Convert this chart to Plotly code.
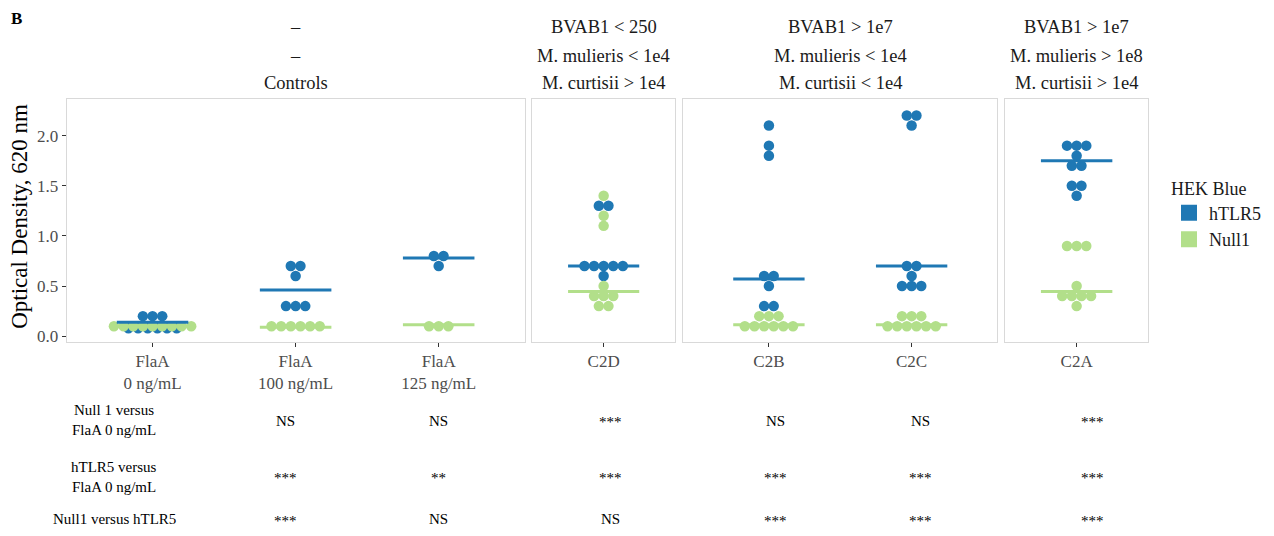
import plotly.graph_objects as go

# ---------------- data ----------------
panel_categories = [
    ["FlaA 0 ng/mL", "FlaA 100 ng/mL", "FlaA 125 ng/mL"],
    ["C2D"],
    ["C2B", "C2C"],
    ["C2A"],
]
panel_ticktext = [
    ["FlaA<br>0 ng/mL", "FlaA<br>100 ng/mL", "FlaA<br>125 ng/mL"],
    ["C2D"],
    ["C2B", "C2C"],
    ["C2A"],
]
strip_bvab1 = ["–", "BVAB1 < 250", "BVAB1 > 1e7", "BVAB1 > 1e7"]
strip_mulieris = ["–", "M. mulieris < 1e4", "M. mulieris < 1e4", "M. mulieris > 1e8"]
strip_curtisii = ["Controls", "M. curtisii > 1e4", "M. curtisii < 1e4", "M. curtisii > 1e4"]

htlr5_values = {
    "FlaA 0 ng/mL": [0.2, 0.2, 0.2, 0.08, 0.08, 0.08, 0.08, 0.08, 0.08],
    "FlaA 100 ng/mL": [0.7, 0.7, 0.6, 0.3, 0.3, 0.3],
    "FlaA 125 ng/mL": [0.8, 0.8, 0.7],
    "C2D": [1.3, 1.3, 0.7, 0.7, 0.7, 0.7, 0.7, 0.6],
    "C2B": [2.1, 1.9, 1.8, 0.6, 0.6, 0.5, 0.3, 0.3],
    "C2C": [2.2, 2.2, 2.1, 0.7, 0.7, 0.6, 0.5, 0.5, 0.5],
    "C2A": [1.9, 1.9, 1.9, 1.8, 1.7, 1.7, 1.5, 1.5, 1.4],
}
null1_values = {
    "FlaA 0 ng/mL": [0.1] * 9,
    "FlaA 100 ng/mL": [0.1] * 6,
    "FlaA 125 ng/mL": [0.1] * 3,
    "C2D": [1.4, 1.2, 1.1, 0.5, 0.4, 0.4, 0.4, 0.3, 0.3],
    "C2B": [0.2, 0.2, 0.2, 0.1, 0.1, 0.1, 0.1, 0.1, 0.1],
    "C2C": [0.2, 0.2, 0.2, 0.1, 0.1, 0.1, 0.1, 0.1, 0.1],
    "C2A": [0.9, 0.9, 0.9, 0.5, 0.4, 0.4, 0.4, 0.4, 0.3],
}
htlr5_median = {"FlaA 0 ng/mL": 0.14, "FlaA 100 ng/mL": 0.46, "FlaA 125 ng/mL": 0.78,
                "C2D": 0.70, "C2B": 0.57, "C2C": 0.70, "C2A": 1.75}
null1_median = {"FlaA 0 ng/mL": 0.10, "FlaA 100 ng/mL": 0.09, "FlaA 125 ng/mL": 0.115,
                "C2D": 0.445, "C2B": 0.115, "C2C": 0.115, "C2A": 0.445}

y_tickvals = [0.0, 0.5, 1.0, 1.5, 2.0]
y_ticktext = ["0.0", "0.5", "1.0", "1.5", "2.0"]

table_row_labels = [["Null 1 versus", "FlaA 0 ng/mL"], ["hTLR5 versus", "FlaA 0 ng/mL"], ["Null1 versus hTLR5"]]
table_values = [
    ["NS", "NS", "***", "NS", "NS", "***"],
    ["***", "**", "***", "***", "***", "***"],
    ["***", "NS", "NS", "***", "***", "***"],
]

# ---------------- styling / layout ----------------
OFF_X, OFF_Y = 8, 5.5        # page body offset
SCALE_X = 0.996
W, H = 1258, 520
BLUE = "#1f78b4"
GREEN = "#b2df8a"
FONT = "Liberation Serif, Times New Roman, serif"


def px_x(p):
    return (p - OFF_X) / (W * SCALE_X)


def px_y(p):
    return 1 - (p - OFF_Y) / H


panel_px = [(67, 527), (535, 678), (686.5, 1002), (1010, 1153.5)]
panel_range = [[-0.6, 2.6], [-0.5, 0.5], [-0.6, 1.6], [-0.5, 0.5]]
y_top_px, y_bot_px = 97, 342
y_range = [-0.057, 2.367]
spacing = 0.0675   # beeswarm spacing in category units
half_width = 0.25  # median line half-width


def swarm(values, center):
    counts = {}
    for v in values:
        counts[v] = counts.get(v, 0) + 1
    seen = {}
    xs = []
    for v in values:
        i = seen.get(v, 0)
        seen[v] = i + 1
        n = counts[v]
        xs.append(center + (i - (n - 1) / 2) * spacing)
    return xs


fig = go.Figure()

for pi, cats in enumerate(panel_categories):
    xa = "x" if pi == 0 else f"x{pi + 1}"
    ya = "y" if pi == 0 else f"y{pi + 1}"
    for ci, cat in enumerate(cats):
        for vals, col in ((htlr5_values[cat], BLUE), (null1_values[cat], GREEN)):
            fig.add_trace(go.Scatter(
                x=swarm(vals, ci), y=vals, mode="markers", xaxis=xa, yaxis=ya,
                marker=dict(color=col, size=10.5, line=dict(width=0)),
                showlegend=False, hoverinfo="skip"))
    for ci, cat in enumerate(cats):
        for med, col in ((htlr5_median[cat], BLUE), (null1_median[cat], GREEN)):
            fig.add_trace(go.Scatter(
                x=[ci - half_width, ci + half_width], y=[med, med], mode="lines",
                xaxis=xa, yaxis=ya, line=dict(color=col, width=3),
                showlegend=False, hoverinfo="skip"))

# legend entries
for name, col in (("hTLR5", BLUE), ("Null1", GREEN)):
    fig.add_trace(go.Scatter(x=[None], y=[None], mode="markers", name=name,
                             marker=dict(color=col, size=17, symbol="square")))

layout = dict(
    width=W, height=H,
    margin=dict(l=0, r=0, t=0, b=0),
    paper_bgcolor="white", plot_bgcolor="white",
    font=dict(family=FONT, size=18, color="#1a1a1a"),
    legend=dict(x=px_x(1175), y=px_y(170), xanchor="left", yanchor="top",
                title=dict(text="HEK Blue", font=dict(size=18, color="#1a1a1a")),
                font=dict(size=18, color="#1a1a1a"), tracegroupgap=0,
                bgcolor="rgba(0,0,0,0)"),
)

for pi, cats in enumerate(panel_categories):
    suffix = "" if pi == 0 else str(pi + 1)
    x0, x1 = panel_px[pi]
    layout["xaxis" + suffix] = dict(
        domain=[px_x(x0), px_x(x1)], range=panel_range[pi],
        anchor="y" + suffix, tickmode="array",
        tickvals=list(range(len(cats))), ticktext=panel_ticktext[pi],
        ticks="outside", ticklen=4, tickcolor="#333333", tickwidth=1,
        tickfont=dict(family=FONT, size=17, color="#4d4d4d"),
        showgrid=False, zeroline=False, showline=True, mirror=True,
        linecolor="#d9d9d9", linewidth=1, fixedrange=True,
    )
    ydict = dict(
        domain=[px_y(y_bot_px), px_y(y_top_px)], range=y_range,
        anchor="x" + suffix, showgrid=False, zeroline=False,
        showline=True, mirror=True, linecolor="#d9d9d9", linewidth=1,
        fixedrange=True,
    )
    if pi == 0:
        ydict.update(tickmode="array", tickvals=y_tickvals, ticktext=y_ticktext,
                     ticks="outside", ticklen=4, tickcolor="#333333", tickwidth=1,
                     tickfont=dict(family=FONT, size=17, color="#4d4d4d"))
    else:
        ydict.update(showticklabels=False, ticks="")
    layout["yaxis" + suffix] = ydict

fig.update_layout(**layout)


def note(text, x, y, size, color="#1a1a1a", angle=0):
    return dict(text=text, x=px_x(x), y=px_y(y), xref="paper", yref="paper",
                xanchor="center", yanchor="middle", showarrow=False, textangle=angle,
                font=dict(family=FONT, size=size, color=color))


ann = [note("<b>B</b>", 17, 16, 17, "black"),
       note("Optical Density, 620 nm", 20, 215, 23, "black", -90)]
# strip headers
for pi in range(4):
    cx = (panel_px[pi][0] + panel_px[pi][1]) / 2
    for txt, yy in ((strip_bvab1[pi], 25), (strip_mulieris[pi], 54), (strip_curtisii[pi], 81)):
        ann.append(note(txt, cx, yy, 18.5))
# table
row_y = [[411, 430.5], [468.5, 488], [520]]
text_row_y = [421.5, 477.5, 520]
star_row_y = [422.5, 479, 522]
col_x = [287, 441, 613, 779, 925, 1098]
for ri, lines in enumerate(table_row_labels):
    for li, line in enumerate(lines):
        ann.append(note(line, 115, row_y[ri][li], 15, "black"))
    for ci, val in enumerate(table_values[ri]):
        vy = star_row_y[ri] if "*" in val else text_row_y[ri]
        ann.append(note(val, col_x[ci], vy, 15, "black"))

fig.update_layout(annotations=ann)
fig.write_html("out.html")
